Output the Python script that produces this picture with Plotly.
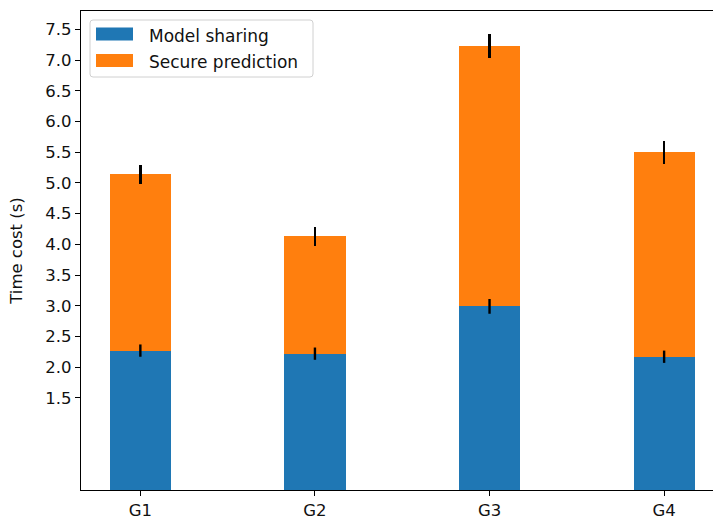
import plotly.graph_objects as go

groups = ["G1", "G2", "G3", "G4"]
model_sharing = [2.27, 2.22, 2.99, 2.17]
model_sharing_err = [0.10, 0.10, 0.12, 0.10]
secure_prediction = [2.87, 1.91, 4.24, 3.33]
secure_prediction_err = [0.16, 0.15, 0.20, 0.19]
ytick_vals = [1.5, 2.0, 2.5, 3.0, 3.5, 4.0, 4.5, 5.0, 5.5, 6.0, 6.5, 7.0, 7.5]
ytick_text = ["1.5", "2.0", "2.5", "3.0", "3.5", "4.0", "4.5", "5.0", "5.5", "6.0", "6.5", "7.0", "7.5"]
legend_labels = ["Model sharing", "Secure prediction"]

BLUE = "#1f77b4"
ORANGE = "#ff7f0e"
FONT = "DejaVu Sans"
FS = 16.5

fig = go.Figure()
fig.add_trace(go.Bar(
    x=groups, y=model_sharing, width=0.35, marker=dict(color=BLUE, line=dict(width=0)),
    name=legend_labels[0],
))
fig.add_trace(go.Bar(
    x=groups, y=secure_prediction, width=0.35, marker=dict(color=ORANGE, line=dict(width=0)),
    name=legend_labels[1],
    error_y=dict(type="data", array=secure_prediction_err, color="black", thickness=2.4, width=0),
))
# error bars of the lower segment drawn on top of the stack
fig.add_trace(go.Scatter(
    x=groups, y=model_sharing, mode="markers", marker=dict(size=0.1, opacity=0),
    showlegend=False, hoverinfo="skip",
    error_y=dict(type="data", array=model_sharing_err, color="black", thickness=2.4, width=0),
))

fig.update_layout(
    barmode="stack",
    width=713, height=517,
    margin=dict(l=81, r=0, t=11, b=27),
    paper_bgcolor="white", plot_bgcolor="white",
    showlegend=False,
    font=dict(family=FONT, size=FS, color="black"),
)
fig.update_xaxes(
    range=[-0.34, 3.28], showgrid=False, zeroline=False, automargin=False,
    showline=True, linecolor="black", linewidth=1.2, mirror=True,
    ticks="outside", ticklen=5, tickwidth=1, tickcolor="black",
    tickfont=dict(family=FONT, size=FS, color="#111111"),
)
fig.update_yaxes(
    range=[0, 7.8], showgrid=False, zeroline=False, automargin=False,
    showline=True, linecolor="black", linewidth=1.2,
    ticks="outside", ticklen=5, tickwidth=1, tickcolor="black",
    tickvals=ytick_vals, ticktext=ytick_text,
    tickfont=dict(family=FONT, size=FS, color="#111111"),
    title=dict(text="Time cost (s)", font=dict(family=FONT, size=FS, color="#111111"), standoff=18),
)

# custom legend (matplotlib style)
W, H = 713, 517
pw, ph = W - 81, H - 11 - 27
def px(x):
    return (x - 81) / pw
def py(y):
    return (H - 27 - y) / ph

x0, x1, y0, y1, r = 90, 313, 20, 77, 3
path = (f"M {px(x0+r)},{py(y0)} L {px(x1-r)},{py(y0)} Q {px(x1)},{py(y0)} {px(x1)},{py(y0+r)} "
        f"L {px(x1)},{py(y1-r)} Q {px(x1)},{py(y1)} {px(x1-r)},{py(y1)} "
        f"L {px(x0+r)},{py(y1)} Q {px(x0)},{py(y1)} {px(x0)},{py(y1-r)} "
        f"L {px(x0)},{py(y0+r)} Q {px(x0)},{py(y0)} {px(x0+r)},{py(y0)} Z")
fig.add_shape(type="path", xref="paper", yref="paper", path=path,
              fillcolor="rgba(255,255,255,0.8)", line=dict(color="#d0d0d0", width=1))
for i, (lab, col) in enumerate(zip(legend_labels, [BLUE, ORANGE])):
    cy = 34 + i * 26.5
    fig.add_shape(type="rect", xref="paper", yref="paper",
                  x0=px(96), x1=px(133), y0=py(cy - 6.5), y1=py(cy + 6.5),
                  fillcolor=col, line=dict(width=0))
    fig.add_annotation(xref="paper", yref="paper", x=px(147), y=py(cy + 1.5),
                       text=lab, showarrow=False, xanchor="left", yanchor="middle",
                       font=dict(family=FONT, size=17, color="#111111"))

fig.write_html("out.html")
